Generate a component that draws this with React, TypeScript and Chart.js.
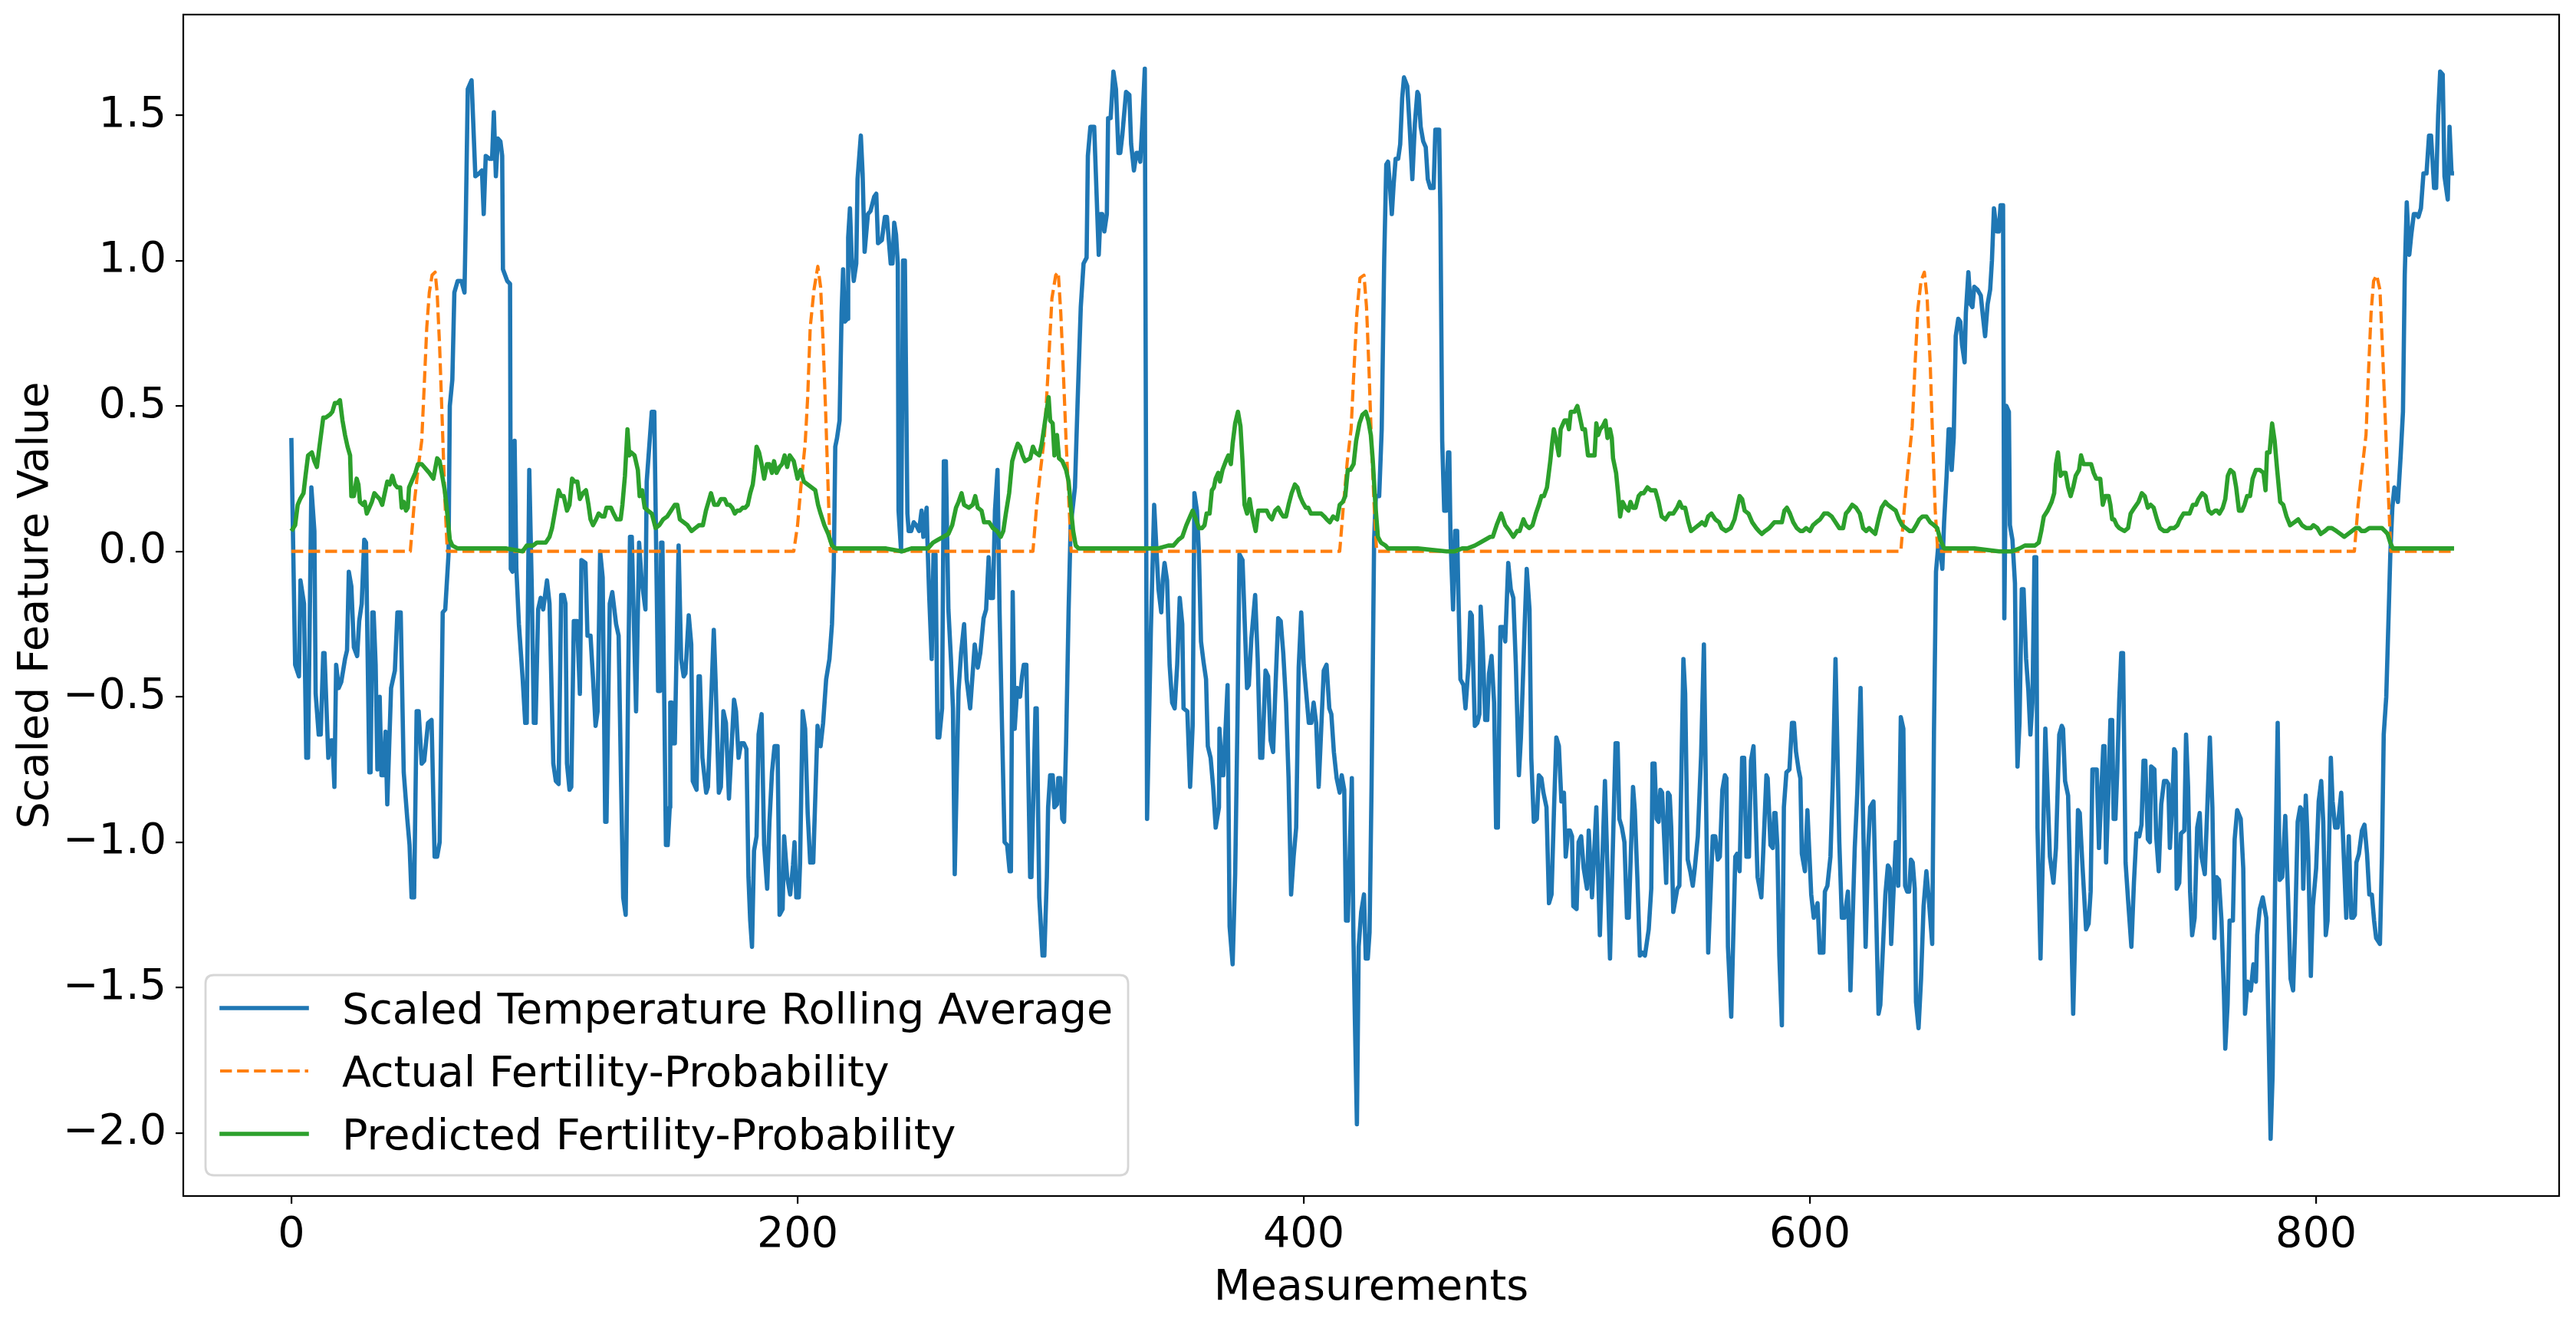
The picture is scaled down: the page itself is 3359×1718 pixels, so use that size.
import React, { useEffect, useRef } from "react";
import { Chart, registerables } from "chart.js";

Chart.register(...registerables);

const W = 3359;
const H = 1718;

const xTickValues = [0, 200, 400, 600, 800];
const yTickValues = [-2, -1.5, -1, -0.5, 0, 0.5, 1, 1.5];
const seriesLabels = [
  "Scaled Temperature Rolling Average",
  "Actual Fertility-Probability",
  "Predicted Fertility-Probability",
];
const seriesColors = ["#1f77b4", "#ff7f0e", "#2ca02c"];

// Scaled temperature rolling average, [measurement, value]
const tempPart1: [number, number][] = [
  [0,0.39],[1.5,-0.39],[3,-0.43],[3.6,-0.10],[5,-0.18],[5.9,-0.71],[6.6,-0.71],[7.9,0.22],[9.1,0.07],[9.6,-0.49],[10.8,-0.63],[11.6,-0.63],[12.6,-0.35],[13.1,-0.35],[14.6,-0.71],[15.7,-0.65],[16.2,-0.65],[17,-0.81],[17.7,-0.39],[18.7,-0.47],[19.7,-0.45],[21.2,-0.37],[22,-0.34],[22.7,-0.07],[23.7,-0.12],[24.7,-0.33],[26,-0.36],[26.8,-0.24],[27.8,-0.18],[28.8,0.04],[29.5,0.03],[30.8,-0.76],[31.3,-0.76],[32,-0.21],[32.5,-0.21],[33.3,-0.39],[34,-0.75],[34.9,-0.50],[35.6,-0.77],[36.4,-0.77],[37.2,-0.62],[37.9,-0.87],[39.4,-0.47],[40.9,-0.41],[41.9,-0.21],[43.2,-0.21],[44.4,-0.76],[45.8,-0.92],[46.7,-1.01],[47.5,-1.19],[48.5,-1.19],[49.5,-0.55],[50.3,-0.55],[51.5,-0.73],[52.5,-0.72],[54,-0.59],[55.4,-0.58],[56.6,-1.05],[57.6,-1.05],[58.6,-1.00],[59.8,-0.21],[60.8,-0.20],[62.1,-0.01],[62.6,0.50],[63.6,0.59],[64.4,0.89],[65.7,0.93],[67.2,0.93],[68.4,0.89],[68.9,1.13],[69.7,1.59],[71.2,1.62],[72.7,1.29],[74.2,1.30],[75.3,1.31],[76,1.16],[76.8,1.36],[78.3,1.35],[79.3,1.35],[80,1.51],[80.8,1.29],[81.6,1.42],[82.6,1.41],[83.3,1.36],[83.6,0.97],[85.3,0.93],[86.4,0.92],[86.7,-0.06],[87.4,-0.07],[88.2,0.38],[88.9,-0.06],[89.9,-0.25],[91.4,-0.44],[92.4,-0.59],[93,-0.59],[94,0.28],[95,-0.13],[95.8,-0.59],[96.5,-0.59],[97.5,-0.20],[98.5,-0.16],[99.5,-0.20],[101,-0.10],[102,-0.18],[103.5,-0.73],[104.5,-0.79],[105.6,-0.80],[106.6,-0.15],[107.6,-0.15],[108.3,-0.18],[108.9,-0.73],[109.9,-0.82],[110.6,-0.81],[111.6,-0.24],[112.9,-0.24],[114,-0.49],[114.6,-0.03],[116.2,-0.04],[117,-0.29],[118.2,-0.29],[119.2,-0.44],[120.2,-0.60],[121,-0.55],[122,0.00],[123,-0.09],[124,-0.93],[124.5,-0.93],[125.8,-0.18],[126.8,-0.14],[128.3,-0.25],[129.3,-0.29],[130.3,-0.81],[131.1,-1.19],[132.1,-1.25],[133.1,-0.42],[133.8,0.05],[134.5,0.05],[136.2,-0.55],[137.4,0.03],[138.4,-0.10],[139.9,-0.20],[140.4,0.24],[142.4,0.48],
];
const tempPart2: [number, number][] = [
  [143.4,0.48],[144.9,-0.48],[145.6,-0.48],[146.1,0.03],[146.6,0.03],[148,-1.01],[148.7,-1.01],[149.5,-0.88],[149.7,-0.52],[150.3,-0.52],[150.7,-0.66],[151.5,-0.66],[153,0.02],[154,-0.37],[155,-0.43],[155.7,-0.42],[157,-0.22],[158,-0.32],[158.6,-0.79],[160.1,-0.82],[160.9,-0.43],[161.4,-0.43],[162.4,-0.71],[163.9,-0.83],[164.6,-0.81],[166.9,-0.27],[167.6,-0.44],[168.9,-0.83],[169.7,-0.81],[170.7,-0.55],[171.7,-0.59],[172.9,-0.85],[174.9,-0.51],[175.7,-0.55],[176.7,-0.71],[177.7,-0.66],[178.8,-0.66],[179.8,-0.68],[180.6,-1.12],[181.3,-1.27],[182,-1.36],[182.8,-1.03],[183.8,-0.98],[184.6,-0.63],[185.8,-0.56],[186.8,-1.01],[188,-1.16],[188.9,-0.93],[189.9,-0.76],[190.9,-0.67],[192.1,-0.67],[192.9,-1.25],[194.1,-1.23],[194.7,-0.98],[195.9,-1.12],[197.1,-1.18],[198.2,-1.08],[198.8,-1.00],[199.5,-1.19],[200.5,-1.19],[201,-1.07],[202,-0.55],[203,-0.61],[204,-0.90],[205,-1.07],[206.2,-1.07],[207.9,-0.60],[209.1,-0.67],[210.1,-0.59],[211.3,-0.44],[212.6,-0.37],[213.6,-0.25],[214.3,-0.06],[214.9,0.36],[215.6,0.39],[216.6,0.45],[217.4,0.82],[218,0.97],[218.7,0.79],[219.7,0.80],[220,1.08],[220.7,1.18],[221.4,1.01],[222.2,0.93],[223.2,0.99],[223.7,1.28],[225,1.43],[225.7,1.30],[226.5,1.03],[227.8,1.16],[228.8,1.17],[230.3,1.22],[231.1,1.23],[231.8,1.06],[233.3,1.07],[234.5,1.15],[235.3,1.15],[236.8,0.99],[237.5,0.99],[238.2,1.13],[238.9,1.09],[239.6,0.99],[239.9,0.14],[240.9,0.00],[241.7,1.00],[242.4,1.00],[243.4,0.13],[243.9,0.07],[244.9,0.07],[245.9,0.10],[246.9,0.09],[248,0.07],[249,0.14],[249.7,0.05],[251,0.15],[251.3,0.04],[252,-0.15],[253,-0.37],[253.7,-0.01],[254.5,-0.01],[255.3,-0.64],[256,-0.64],[257.1,-0.54],[257.8,0.31],[258.6,0.31],[259.6,-0.20],[260.6,-0.37],[261.4,-0.54],[262.1,-1.11],[263.6,-0.48],[264.6,-0.35],[265.8,-0.25],[266.8,-0.44],[268.2,-0.54],[270,-0.32],[271.2,-0.40],[272.2,-0.35],[273.5,-0.23],[274.5,-0.20],[275.5,-0.02],[276.2,-0.16],[277.2,-0.16],[278,0.14],[279,0.28],[279.8,-0.20],[280.8,-0.61],[281.8,-1.00],[282.8,-1.01],[283.8,-1.10],[284.3,-1.10],[285,-0.14],[285.8,-0.61],[286.8,-0.47],[287.9,-0.50],
];
const tempPart3: [number, number][] = [
  [288.7,-0.43],[289.4,-0.39],[290.4,-0.39],[291.9,-1.12],[292.4,-1.12],[294,-0.54],[294.5,-0.54],[295.5,-1.19],[296.8,-1.39],[297.5,-1.39],[298.5,-1.12],[299,-0.88],[299.8,-0.77],[300.8,-0.77],[301.5,-0.88],[302.5,-0.87],[303,-0.78],[303.8,-0.78],[304.6,-0.92],[305.3,-0.93],[306.1,-0.66],[307.1,-0.20],[307.9,0.09],[308.6,0.14],[309.6,0.22],[310.6,0.50],[311.9,0.84],[313,0.99],[314.2,1.01],[314.7,1.36],[315.7,1.46],[317.2,1.46],[319,1.02],[319.7,1.16],[320.4,1.16],[321.2,1.10],[322.2,1.16],[322.7,1.49],[323.7,1.49],[324.8,1.65],[325.8,1.59],[326.8,1.37],[327.5,1.37],[328.3,1.43],[329.8,1.58],[331.1,1.57],[331.8,1.40],[332.9,1.31],[333.9,1.37],[334.6,1.37],[335.4,1.34],[336.2,1.47],[337.2,1.66],[338.1,-0.92],[339.6,-0.27],[340.9,0.16],[342.6,-0.13],[343.7,-0.21],[344.3,-0.10],[345,-0.04],[346,-0.10],[347,-0.39],[348,-0.52],[349,-0.54],[350,-0.39],[351,-0.16],[352,-0.25],[352.5,-0.54],[354,-0.55],[355.1,-0.81],[356.1,-0.60],[356.8,0.20],[357.8,0.14],[358.6,-0.01],[359.4,-0.31],[360.4,-0.38],[361.4,-0.44],[362.1,-0.67],[363.2,-0.71],[364.2,-0.81],[365.2,-0.95],[366.5,-0.88],[366.7,-0.61],[367.7,-0.77],[368.2,-0.77],[369,-0.63],[369.9,-0.46],[370.7,-1.29],[371.9,-1.42],[372.9,-1.11],[373.8,-0.59],[374.6,-0.01],[375.8,-0.03],[376.7,-0.25],[377.6,-0.47],[378.3,-0.46],[379.3,-0.30],[380.8,-0.15],[381.8,-0.37],[382.8,-0.71],[383.6,-0.71],[384.9,-0.41],[385.9,-0.43],[386.9,-0.65],[387.9,-0.69],[388.9,-0.45],[389.9,-0.23],[390.9,-0.24],[391.9,-0.35],[393,-0.52],[394,-0.78],[395,-1.18],[396,-1.05],[397,-0.95],[398,-0.40],[399,-0.21],[400,-0.39],[401,-0.49],[402,-0.59],[403,-0.59],[403.9,-0.52],[404.9,-0.59],[405.9,-0.81],[406.9,-0.61],[407.9,-0.41],[409,-0.39],[410.1,-0.54],[410.9,-0.56],[411.9,-0.69],[413,-0.78],[414.2,-0.83],[415,-0.77],[416,-0.82],[416.7,-1.27],[417.4,-1.27],[418.2,-1.03],[419,-0.78],[419.6,-1.31],[420.2,-1.61],[421,-1.97],[421.7,-1.36],[422.7,-1.24],[423.8,-1.18],[424.5,-1.40],[425.3,-1.40],[426,-1.31],[426.8,-0.80],[427.8,0.04],[428.5,0.19],[429.8,0.19],[430.8,0.42],[431.8,1.01],[432.6,1.33],[433.3,1.34],
];
const tempPart4: [number, number][] = [
  [434.1,1.25],[434.8,1.16],[435.5,1.26],[436.3,1.35],[437.3,1.35],[438.1,1.40],[438.9,1.56],[439.6,1.63],[440.9,1.60],[441.9,1.45],[442.9,1.28],[443.9,1.47],[444.9,1.58],[445.4,1.57],[446.2,1.46],[447.2,1.41],[448.2,1.39],[449,1.28],[450,1.25],[451.3,1.25],[452,1.45],[453.5,1.45],[454,1.16],[454.7,0.38],[455.5,0.14],[456.3,0.14],[457,0.34],[457.5,0.34],[458,0.04],[459,-0.20],[459.8,0.07],[460.6,0.07],[461.1,-0.15],[461.9,-0.44],[463.1,-0.46],[463.9,-0.54],[465.1,-0.39],[465.8,-0.21],[466.4,-0.22],[467.6,-0.60],[468.6,-0.59],[469.4,-0.56],[469.9,-0.19],[470.7,-0.32],[471.7,-0.58],[472.5,-0.58],[473.2,-0.42],[474.2,-0.36],[475.2,-0.52],[476,-0.95],[476.7,-0.95],[477.7,-0.26],[478.7,-0.26],[479.6,-0.31],[480.8,-0.04],[481.8,-0.13],[482.8,-0.16],[483.8,-0.39],[485,-0.77],[485.8,-0.64],[486.6,-0.44],[487.3,-0.25],[488.1,-0.06],[489.2,-0.20],[489.9,-0.71],[490.9,-0.93],[492.1,-0.92],[492.9,-0.77],[493.9,-0.78],[494.7,-0.83],[495.9,-0.88],[496.9,-1.21],[497.9,-1.18],[498.9,-0.88],[499.8,-0.64],[500.8,-0.67],[501.8,-0.86],[502.8,-0.83],[503.5,-1.05],[504.5,-0.96],[505.2,-0.96],[506,-0.98],[506.5,-1.22],[507.8,-1.23],[508.6,-1.00],[509.6,-0.98],[510.6,-1.09],[511.9,-1.16],[512.6,-0.96],[513.9,-1.19],[515.6,-0.88],[517,-1.32],[519,-0.79],[521,-1.40],[523.2,-0.66],[524,-0.66],[524.7,-0.92],[525.7,-0.95],[526.7,-1.00],[527.7,-1.26],[528.4,-1.26],[530.1,-0.81],[530.8,-0.89],[531.8,-1.12],[532.8,-1.39],[533.8,-1.38],[534.8,-1.39],[536.3,-1.30],[537.3,-1.16],[537.8,-0.73],[538.6,-0.73],[539.4,-0.92],[540.2,-0.93],[540.9,-0.82],[541.6,-0.83],[543.2,-1.14],[543.9,-0.83],[544.6,-0.84],[545.2,-0.95],[546,-1.24],[547,-1.19],[547.6,-1.16],[548.4,-1.15],[550,-0.37],[550.7,-0.49],[551.7,-1.06],[552.7,-1.10],[553.7,-1.15],[554.5,-1.09],[555.7,-0.98],[557,-0.70],[558.1,-0.32],[559.8,-1.38],[561.6,-0.98],[562.6,-0.98],[563.6,-1.06],[564.4,-1.05],[565.4,-0.82],[566.4,-0.77],[567,-0.78],[567.6,-1.36],[568.9,-1.60],[570.5,-1.05],[571.2,-1.04],[572.2,-1.10],[573.2,-0.71],[574,-0.71],[574.9,-1.05],[575.9,-1.05],[576.7,-0.72],[577.7,-0.67],
];
const tempPart5: [number, number][] = [
  [579.3,-1.12],[580.8,-1.19],[582.8,-0.77],[583.3,-0.78],[584.4,-1.01],[585.3,-1.02],[585.9,-0.90],[586.4,-0.90],[587.1,-1.01],[587.9,-1.39],[588.9,-1.63],[589.7,-0.88],[590.7,-0.76],[591.9,-0.75],[592.9,-0.59],[593.7,-0.59],[594.5,-0.69],[595.5,-0.75],[596.2,-0.78],[596.8,-1.04],[598,-1.10],[599,-0.89],[600.5,-1.18],[601.5,-1.26],[603,-1.21],[603.9,-1.38],[605.3,-1.38],[605.9,-1.17],[606.9,-1.15],[608.1,-1.05],[609,-0.80],[610.1,-0.37],[611.6,-1.00],[612.6,-1.26],[613.6,-1.26],[615,-1.17],[616,-1.51],[617.7,-1.02],[618.7,-0.83],[620,-0.47],[622,-1.36],[623,-1.02],[623.8,-0.88],[625.1,-0.86],[627.1,-1.59],[627.8,-1.56],[629.8,-1.18],[630.8,-1.08],[631.5,-1.09],[632.1,-1.35],[633.9,-1.00],[634.4,-1.00],[634.9,-1.15],[635.9,-0.57],[636.9,-0.61],[637.6,-1.15],[638.4,-1.17],[639.2,-1.17],[639.9,-1.06],[640.6,-1.07],[641.4,-1.16],[641.9,-1.55],[642.9,-1.64],[643.9,-1.47],[644.9,-1.22],[646,-1.10],[647,-1.20],[648.3,-1.35],[649,-0.62],[649.8,-0.07],[650.7,0.02],[651.5,0.01],[652.3,-0.06],[653,0.10],[654,0.26],[654.8,0.42],[655.4,0.42],[656,0.28],[656.8,0.39],[657.6,0.74],[658.6,0.80],[659.4,0.79],[660.1,0.71],[661.1,0.65],[661.6,0.82],[662.6,0.96],[663.4,0.85],[664.2,0.84],[664.9,0.91],[666.2,0.90],[667.5,0.88],[668.2,0.82],[669.2,0.74],[670.2,0.85],[671.2,0.90],[671.9,1.00],[672.7,1.18],[673.8,1.10],[674.6,1.10],[675.3,1.19],[676.3,1.19],[676.8,-0.23],[677.6,0.50],[678.6,0.48],[679,0.09],[680,0.04],[681,-0.11],[681.4,-0.45],[682,-0.74],[682.8,-0.59],[683.7,-0.13],[684.4,-0.13],[685.4,-0.37],[686.3,-0.48],[687.1,-0.63],[687.9,-0.52],[688.7,-0.02],[689.4,-0.02],[689.9,-0.95],[691.1,-1.40],[692,-1.05],[693,-0.61],[693.9,-0.83],[694.8,-1.05],[696.2,-1.14],[697.2,-1.02],[698.5,-0.63],[699.5,-0.60],[700,-0.61],[700.8,-0.79],[702,-0.84],[703,-1.20],[704,-1.59],[705,-1.25],[705.9,-0.89],[706.6,-0.90],[707.6,-1.07],[709.1,-1.30],[710.1,-1.28],[710.9,-1.17],[711.6,-0.75],[713.3,-0.75],[714.2,-1.02],[715.1,-0.83],[715.9,-0.67],[716.4,-0.67],[717,-1.07],[717.9,-0.83],[718.7,-0.58],[719.4,-0.58],[720,-0.92],[720.7,-0.92],[721.4,-0.76],[722.2,-0.51],[723,-0.35],[723.7,-0.35],
];
const tempPart6: [number, number][] = [
  [724.7,-1.07],[725.7,-1.20],[727,-1.36],[728,-1.14],[729,-0.97],[730.1,-0.98],[731,-0.94],[731.8,-0.72],[732.5,-0.72],[733.5,-0.99],[734.3,-1.00],[734.8,-0.74],[736.1,-0.75],[736.8,-0.98],[737.8,-1.10],[738.8,-0.87],[739.9,-0.79],[740.9,-0.79],[741.6,-0.80],[742.2,-1.02],[743.1,-0.88],[743.9,-0.68],[744.4,-0.69],[744.9,-1.16],[745.9,-1.14],[746.6,-0.97],[747.9,-0.96],[748.6,-0.63],[749.4,-0.81],[750.2,-1.17],[751,-1.32],[752,-1.26],[753,-0.95],[754,-0.90],[754.7,-1.05],[756,-1.11],[757,-0.88],[758,-0.64],[759,-0.88],[759.8,-1.33],[760.6,-1.12],[761.6,-1.13],[762.6,-1.27],[763.6,-1.53],[764.1,-1.71],[765,-1.56],[765.8,-1.27],[767.1,-1.27],[767.8,-0.99],[768.8,-0.89],[770.2,-0.92],[771.2,-1.09],[771.9,-1.59],[772.9,-1.48],[774.2,-1.51],[775.2,-1.42],[776.2,-1.48],[776.7,-1.32],[777.7,-1.23],[778.9,-1.19],[780.3,-1.26],[781.2,-1.65],[782,-2.02],[782.8,-1.80],[783.8,-1.13],[784.8,-0.59],[785.6,-1.13],[786.6,-1.12],[787.8,-0.91],[788.8,-1.16],[789.9,-1.47],[790.9,-1.51],[791.7,-1.30],[792.7,-0.93],[793.7,-0.88],[794.4,-0.89],[794.9,-1.16],[795.9,-0.84],[796.9,-1.05],[797.9,-1.46],[798.7,-1.22],[800,-1.09],[801,-0.86],[802,-0.79],[802.8,-0.93],[803.8,-1.32],[804.5,-1.27],[805.8,-0.71],[806.5,-0.86],[807.5,-0.95],[808.5,-0.95],[809.9,-0.83],[810.6,-0.98],[811.9,-1.26],[812.9,-0.98],[813.9,-1.26],[814.6,-1.26],[815.3,-1.25],[815.9,-1.07],[816.9,-1.04],[818.1,-0.96],[819.1,-0.94],[820.1,-1.04],[821,-1.18],[822,-1.18],[822.9,-1.27],[823.7,-1.33],[825.2,-1.35],[826,-1.05],[826.7,-0.63],[827.7,-0.50],[828.7,-0.20],[829.3,-0.01],[830.1,0.15],[830.9,0.22],[832.3,0.17],[833.4,0.33],[834.3,0.48],[835,0.95],[835.8,1.20],[836.8,1.02],[837.6,1.09],[838.6,1.16],[839.6,1.16],[840.4,1.15],[841.4,1.18],[842.4,1.30],[843.6,1.30],[844.6,1.43],[845.4,1.43],[846.6,1.25],[847.4,1.25],[848.2,1.50],[849,1.65],[850,1.64],[850.7,1.29],[852,1.21],[852.7,1.46],[853.5,1.30],[854.5,1.30],
];

// Actual fertility probability, [measurement, value]
const actualSeries: [number, number][] = [
  [0,0],[47,0],[48.5,0.16],[50,0.28],[51.5,0.38],[52.5,0.57],[53.5,0.77],[54.5,0.89],[55.6,0.95],[56.8,0.96],[57.6,0.89],[58.6,0.70],[59.6,0.45],[60.6,0.19],[61.6,0],
  [198.5,0],[200,0.09],[201.5,0.24],[203,0.37],[204,0.53],[205,0.77],[206.5,0.90],[208,0.98],[209.1,0.91],[210.1,0.72],[211.1,0.48],[212.1,0.21],[212.9,0],
  [293,0],[294.5,0.16],[296,0.28],[297.5,0.39],[299,0.62],[300.5,0.87],[302,0.95],[303,0.96],[304,0.82],[305,0.62],[306.1,0.38],[307.1,0.19],[308.1,0],
  [414.2,0],[415.7,0.16],[417.2,0.31],[418.7,0.42],[419.7,0.60],[421,0.82],[422.2,0.94],[423.8,0.95],[424.8,0.84],[425.8,0.62],[426.8,0.36],[427.8,0.16],[428.8,0],
  [635.9,0],[637.4,0.16],[638.9,0.30],[640.4,0.43],[641.4,0.62],[642.6,0.83],[643.9,0.93],[645.2,0.96],[646.3,0.87],[647.5,0.65],[648.5,0.38],[649.5,0.14],[650.5,0],
  [815.1,0],[816.6,0.16],[818.1,0.28],[819.7,0.40],[820.7,0.62],[821.7,0.82],[822.7,0.93],[823.9,0.95],[825.2,0.90],[826.2,0.70],[827.2,0.48],[828.2,0.26],[829.5,0],[854.5,0],
];

// Predicted fertility probability, [measurement, value]
const predPart1: [number, number][] = [
  [0,0.07],[1.5,0.09],[2.5,0.16],[3.5,0.18],[4.8,0.20],[5.6,0.26],[6.6,0.33],[8.1,0.34],[9.1,0.31],[10.1,0.29],[11.1,0.36],[12.6,0.46],[13.6,0.46],[15.2,0.47],[16.2,0.48],[17.2,0.51],[18.2,0.51],[19.2,0.52],[20.2,0.45],[21.2,0.40],[22.2,0.36],[23.2,0.33],[23.7,0.19],[24.7,0.19],[25.8,0.25],[26.5,0.23],[27.1,0.17],[28.3,0.16],[29,0.17],[29.8,0.13],[30.8,0.15],[31.8,0.17],[32.8,0.20],[33.8,0.19],[34.9,0.18],[35.9,0.16],[36.9,0.20],[37.9,0.24],[38.9,0.23],[39.9,0.26],[40.9,0.23],[41.9,0.22],[43,0.22],[43.6,0.15],[44.4,0.17],[45.3,0.14],[46,0.15],[46.5,0.22],[48,0.25],[49,0.27],[50,0.30],[51.5,0.30],[52.5,0.29],[53.5,0.28],[54.5,0.27],[56.1,0.25],[57.6,0.32],[58.6,0.31],[59.6,0.26],[60.6,0.21],[61.6,0.13],[62.6,0.04],[63.6,0.02],[65.7,0.01],[75,0.01],[85,0.01],[91.4,0.00],[93,0.02],[95.5,0.02],[97,0.03],[99,0.03],[100.5,0.03],[102,0.05],[103,0.08],[104,0.13],[105.6,0.21],[106.6,0.19],[107.6,0.19],[108.9,0.14],[109.9,0.16],[110.9,0.25],[111.9,0.24],[113,0.24],[114,0.18],[115.2,0.20],[116.4,0.21],[117.4,0.16],[118.2,0.11],[119.2,0.09],[120.4,0.11],[121.4,0.13],[122.7,0.12],[123.7,0.12],[124.5,0.15],[126.3,0.15],[127.3,0.13],[128.5,0.11],[130.1,0.11],[130.8,0.16],[131.8,0.26],[132.8,0.42],[133.5,0.33],[134.3,0.34],[135.6,0.33],[136.9,0.28],[137.6,0.19],[138.6,0.21],[139.6,0.15],[140.9,0.14],[142.4,0.13],
];
const predPart2: [number, number][] = [
  [143.9,0.08],[145.4,0.09],[146.9,0.11],[148.5,0.12],[150,0.14],[151.5,0.16],[152.5,0.16],[153.5,0.11],[155,0.10],[156.5,0.09],[158.1,0.07],[159.6,0.08],[161.1,0.09],[162.6,0.09],[163.8,0.14],[164.8,0.17],[165.8,0.20],[167.1,0.16],[168.5,0.16],[169.7,0.18],[171.2,0.18],[172.2,0.16],[173.2,0.16],[174.2,0.15],[175.2,0.13],[176.2,0.14],[177.2,0.14],[178.3,0.15],[179.3,0.15],[180.3,0.16],[181.3,0.20],[182.3,0.23],[183,0.28],[183.8,0.36],[184.8,0.34],[185.8,0.30],[186.8,0.25],[187.9,0.30],[188.9,0.30],[189.9,0.27],[190.7,0.31],[191.7,0.27],[192.9,0.29],[193.9,0.30],[194.9,0.33],[195.9,0.29],[196.9,0.33],[198.5,0.31],[200,0.25],[201.2,0.28],[202.5,0.24],[204,0.23],[205.5,0.22],[207,0.21],[208.1,0.16],[209.1,0.13],[210.6,0.09],[212.1,0.06],[213.6,0.02],[215.1,0.01],[225,0.01],[235,0.01],[241.4,0.00],[245,0.01],[251.5,0.01],[253.5,0.03],[255.5,0.04],[257.6,0.05],[259.6,0.06],[261.1,0.09],[262.6,0.15],[263.6,0.17],[264.8,0.20],[265.8,0.16],[267.7,0.15],[269.2,0.16],[270.2,0.19],[271.2,0.15],[272.7,0.14],[273.7,0.10],[275.7,0.10],[277.2,0.08],[278.8,0.07],[280.3,0.05],[281.3,0.07],[282.3,0.13],[283.6,0.20],[284.8,0.31],[285.8,0.34],[287,0.37],[287.9,0.36],
];
const predPart3: [number, number][] = [
  [288.9,0.33],[289.9,0.31],[291.9,0.32],[293,0.36],[294,0.34],[295.5,0.33],[296.5,0.37],[297.5,0.43],[298.5,0.49],[299.2,0.53],[299.8,0.45],[300.8,0.44],[301.5,0.33],[302.5,0.40],[303.3,0.32],[304.6,0.31],[306.1,0.28],[307.1,0.24],[308.1,0.14],[308.9,0.07],[309.9,0.02],[311.1,0.01],[325,0.01],[342.4,0.01],[346.5,0.02],[348.5,0.02],[350.5,0.04],[352,0.05],[353.6,0.09],[355.1,0.12],[356.1,0.14],[357.4,0.11],[358.6,0.08],[359.8,0.08],[360.8,0.09],[361.6,0.13],[362.8,0.13],[363.7,0.21],[364.5,0.22],[365.2,0.25],[366.2,0.27],[366.9,0.24],[367.9,0.28],[369.2,0.31],[370.2,0.33],[371.2,0.30],[371.9,0.37],[372.9,0.44],[374,0.48],[375,0.43],[375.8,0.31],[376.6,0.16],[377.6,0.13],[378.6,0.18],[379.3,0.14],[380,0.11],[381,0.07],[382,0.14],[384.4,0.14],[385.4,0.14],[386.4,0.12],[387.4,0.11],[388.7,0.14],[389.9,0.15],[391.1,0.13],[391.9,0.12],[393,0.12],[394,0.16],[395.2,0.20],[396.5,0.23],[397.5,0.22],[398.5,0.19],[399.5,0.17],[400.8,0.15],[401.8,0.15],[402.8,0.13],[404.1,0.13],[405.6,0.13],[406.9,0.13],[408.1,0.12],[409.1,0.11],[410.3,0.10],[411.6,0.12],[413.2,0.11],[414.2,0.16],[415.4,0.17],[416.4,0.19],[417.4,0.28],[418.4,0.28],[419.7,0.30],[420.7,0.38],[422,0.44],[423.2,0.47],[424.5,0.48],[425.5,0.45],[426.5,0.40],[427.3,0.31],[428.3,0.16],[429.3,0.05],[430.5,0.03],[432.3,0.02],[433.3,0.01],
];
const predPart4: [number, number][] = [
  [445,0.01],[456.5,0.00],[459.6,0.00],[462.6,0.01],[464.6,0.01],[467.6,0.02],[469.7,0.03],[471.7,0.04],[473.7,0.05],[474.7,0.05],[476.2,0.09],[478,0.13],[479.6,0.09],[481.3,0.07],[482.8,0.05],[484.3,0.07],[485.3,0.07],[486.8,0.11],[487.8,0.09],[489.1,0.08],[490.4,0.09],[491.7,0.13],[492.9,0.16],[493.9,0.19],[494.9,0.19],[496.1,0.22],[497.4,0.31],[498.1,0.37],[498.8,0.42],[499.8,0.38],[500.8,0.33],[501.5,0.42],[503,0.45],[504,0.45],[504.8,0.42],[505.5,0.48],[507,0.48],[508.1,0.50],[508.9,0.47],[510.1,0.42],[511.1,0.42],[512.3,0.33],[513.6,0.33],[514.9,0.33],[515.6,0.44],[516.3,0.40],[517.1,0.42],[518.1,0.43],[519.2,0.45],[520,0.39],[521,0.42],[521.7,0.39],[522.2,0.32],[523.4,0.27],[524.2,0.20],[525,0.12],[526,0.17],[527.2,0.15],[528.3,0.14],[529.1,0.17],[530.1,0.15],[531.1,0.15],[532.3,0.19],[533.3,0.20],[534.3,0.20],[535.8,0.22],[537.1,0.21],[538.9,0.21],[540.2,0.17],[541.4,0.12],[542.9,0.11],[544.4,0.13],[546,0.13],[547.5,0.15],[548.5,0.17],[549.5,0.15],[550.7,0.15],[552,0.10],[553,0.07],[554.5,0.08],[556,0.09],[557.3,0.10],[558.6,0.09],[559.8,0.12],[561.1,0.13],[562.6,0.11],[564.1,0.10],[565.1,0.08],[566.8,0.07],[568.7,0.08],[570.2,0.11],[571.2,0.15],[572.2,0.19],[573.2,0.18],[574.2,0.14],[575.7,0.13],[577.2,0.10],[578.8,0.08],
];
const predPart5: [number, number][] = [
  [579.8,0.07],[581,0.06],[582.3,0.07],[583.9,0.08],[585.9,0.10],[587.4,0.10],[588.9,0.10],[589.9,0.14],[590.9,0.15],[592.1,0.13],[593.4,0.10],[594.8,0.08],[596.2,0.07],[597.2,0.07],[598.5,0.08],[600,0.07],[601.2,0.09],[602.5,0.10],[604,0.11],[605.6,0.13],[607.1,0.13],[608.6,0.12],[610.1,0.10],[611.6,0.08],[613.1,0.08],[614.2,0.13],[615.2,0.14],[616.7,0.16],[618.2,0.15],[619.7,0.13],[621,0.08],[622.2,0.07],[623.4,0.08],[624.5,0.07],[625.8,0.06],[627.1,0.11],[628.3,0.15],[629.8,0.17],[630.8,0.16],[632.3,0.15],[633.9,0.14],[635.2,0.11],[636.4,0.09],[637.9,0.08],[639.4,0.07],[640.6,0.07],[642,0.09],[643.2,0.11],[644.5,0.12],[646,0.12],[647.5,0.10],[649,0.09],[650.3,0.08],[651.5,0.04],[653,0.01],[655.6,0.01],[665,0.01],[674.8,0.00],[679.8,0.00],[682.8,0.01],[684.9,0.02],[686.9,0.02],[688.9,0.02],[690.4,0.03],[691.4,0.07],[692.4,0.12],[693.9,0.14],[695.5,0.17],[696.5,0.20],[697.2,0.30],[698,0.34],[699,0.26],[700,0.27],[701,0.27],[702,0.22],[703,0.19],[704,0.22],[705,0.26],[706.3,0.28],[707.1,0.33],[708.1,0.30],[709.6,0.30],[711.1,0.30],[712.1,0.27],[713.1,0.25],[714.7,0.25],[715.7,0.16],[716.7,0.19],[718,0.19],[718.7,0.16],[719.4,0.11],[720.2,0.11],[721.2,0.09],[722.2,0.08],[724.2,0.07],
];
const predPart6: [number, number][] = [
  [725.7,0.08],[726.7,0.13],[728.2,0.15],[729.8,0.17],[731.1,0.20],[732.3,0.19],[733.5,0.15],[734.6,0.16],[735.8,0.15],[737.1,0.11],[738.3,0.08],[739.9,0.07],[741.2,0.07],[742.4,0.08],[743.9,0.08],[745.2,0.09],[746.2,0.11],[747.6,0.13],[748.9,0.13],[750,0.13],[751.3,0.16],[752.5,0.16],[753.5,0.18],[755,0.20],[756.3,0.19],[757.5,0.14],[758.7,0.13],[760.1,0.14],[760.8,0.14],[761.8,0.13],[763.1,0.15],[764.1,0.18],[765.1,0.26],[766.1,0.28],[767.4,0.27],[768.4,0.22],[769.5,0.14],[770.7,0.14],[771.7,0.16],[772.7,0.19],[773.9,0.19],[774.9,0.25],[776.2,0.28],[777.7,0.28],[779.2,0.27],[780,0.21],[780.6,0.34],[781.6,0.34],[782.6,0.44],[783.6,0.38],[784.6,0.28],[785.8,0.17],[787,0.16],[788.3,0.12],[789.7,0.09],[791.4,0.10],[792.9,0.11],[794.4,0.09],[796.1,0.08],[797.9,0.08],[798.9,0.09],[800.5,0.08],[801.8,0.06],[803.5,0.07],[804.8,0.08],[806.2,0.08],[808,0.07],[809.6,0.06],[811.1,0.05],[812.6,0.06],[814.1,0.07],[815.6,0.08],[816.9,0.08],[817.9,0.07],[819.3,0.07],[821,0.08],[822.7,0.08],[824.7,0.08],[826,0.08],[827.2,0.07],[828.2,0.06],[829.3,0.03],[830.3,0.01],[834.3,0.01],[840.4,0.01],[845.4,0.01],[854.5,0.01],
];

const tempSeries = [...tempPart1, ...tempPart2, ...tempPart3, ...tempPart4, ...tempPart5, ...tempPart6];
const predSeries = [...predPart1, ...predPart2, ...predPart3, ...predPart4, ...predPart5, ...predPart6];

const toPoints = (arr: [number, number][]) => arr.map(([x, y]) => ({ x, y }));

const FONT = "'DejaVu Sans', sans-serif";
const FS = 55.6;

const fmtY = (v: number) => (v < 0 ? "\u2212" + Math.abs(v).toFixed(1) : v.toFixed(1));

export default function App() {
  const ref = useRef<HTMLCanvasElement>(null);

  useEffect(() => {
    if (!ref.current) return;

    const frameLegend = {
      id: "frameLegend",
      afterDraw(chart: any) {
        const ctx = chart.ctx;
        const a = chart.chartArea;
        ctx.save();
        // frame (all four spines)
        ctx.strokeStyle = "#000";
        ctx.lineWidth = 2.2;
        ctx.strokeRect(a.left, a.top, a.right - a.left, a.bottom - a.top);

        // legend box
        const bx = a.left + 29;
        const by = a.bottom - 288;
        const bw = 1203;
        const bh = 261;
        const r = 11;
        ctx.beginPath();
        ctx.moveTo(bx + r, by);
        ctx.lineTo(bx + bw - r, by);
        ctx.quadraticCurveTo(bx + bw, by, bx + bw, by + r);
        ctx.lineTo(bx + bw, by + bh - r);
        ctx.quadraticCurveTo(bx + bw, by + bh, bx + bw - r, by + bh);
        ctx.lineTo(bx + r, by + bh);
        ctx.quadraticCurveTo(bx, by + bh, bx, by + bh - r);
        ctx.lineTo(bx, by + r);
        ctx.quadraticCurveTo(bx, by, bx + r, by);
        ctx.closePath();
        ctx.fillStyle = "rgba(255,255,255,0.8)";
        ctx.fill();
        ctx.strokeStyle = "rgba(204,204,204,0.8)";
        ctx.lineWidth = 2.8;
        ctx.stroke();

        const ds = chart.data.datasets;
        ctx.font = `${FS}px ${FONT}`;
        ctx.textAlign = "left";
        ctx.textBaseline = "alphabetic";
        for (let i = 0; i < ds.length; i++) {
          const cy = by + 43 + i * 82;
          ctx.beginPath();
          ctx.strokeStyle = ds[i].borderColor;
          ctx.lineWidth = ds[i].borderWidth;
          ctx.setLineDash(ds[i].borderDash || []);
          ctx.lineCap = ds[i].borderDash ? "butt" : "square";
          ctx.moveTo(bx + 19 + (ds[i].borderDash ? 0 : 2), cy);
          ctx.lineTo(bx + 134 - (ds[i].borderDash ? 0 : 2), cy);
          ctx.stroke();
          ctx.setLineDash([]);
          ctx.fillStyle = "#000";
          ctx.fillText(ds[i].label, bx + 178, cy + 20);
        }
        ctx.restore();
      },
    };

    const tickFont = { family: FONT, size: FS };
    const gridOpts = {
      display: true,
      drawOnChartArea: false,
      drawTicks: true,
      tickLength: 10,
      tickWidth: 2.2,
      lineWidth: 2.2,
      color: "#000",
      tickColor: "#000",
    };

    const chart = new Chart(ref.current, {
      type: "line",
      data: {
        datasets: [
          {
            label: seriesLabels[0],
            data: toPoints(tempSeries),
            borderColor: seriesColors[0],
            backgroundColor: seriesColors[0],
            borderWidth: 5.6,
            order: 3,
          },
          {
            label: seriesLabels[1],
            data: toPoints(actualSeries),
            borderColor: seriesColors[1],
            backgroundColor: seriesColors[1],
            borderWidth: 4.2,
            borderDash: [15.4, 6.7],
            order: 2,
          },
          {
            label: seriesLabels[2],
            data: toPoints(predSeries),
            borderColor: seriesColors[2],
            backgroundColor: seriesColors[2],
            borderWidth: 5.6,
            order: 1,
          },
        ] as any,
      },
      options: {
        responsive: false,
        devicePixelRatio: 1,
        animation: false,
        parsing: false,
        normalized: true,
        layout: { padding: { top: 19, right: 22, left: 0, bottom: 0 } },
        elements: {
          point: { radius: 0, hoverRadius: 0 },
          line: { tension: 0, borderJoinStyle: "round", borderCapStyle: "butt", fill: false },
        },
        plugins: {
          legend: { display: false },
          tooltip: { enabled: false },
          title: { display: false },
        },
        events: [],
        scales: {
          x: {
            type: "linear",
            min: -42.7,
            max: 896,
            afterBuildTicks: (s: any) => {
              s.ticks = xTickValues.map((v) => ({ value: v }));
            },
            afterFit: (s: any) => {
              s.height = 159;
              s.paddingLeft = 0;
              s.paddingRight = 0;
            },
            grid: gridOpts,
            border: { display: false },
            ticks: {
              font: tickFont,
              color: "#000",
              padding: 8,
              maxRotation: 0,
              minRotation: 0,
              autoSkip: false,
              callback: (v: any) => String(v),
            },
            title: {
              display: true,
              text: "Measurements",
              color: "#000",
              font: { family: FONT, size: FS, lineHeight: 1 },
              padding: { top: 0, bottom: 11 },
            },
          },
          y: {
            type: "linear",
            min: -2.217,
            max: 1.846,
            afterBuildTicks: (s: any) => {
              s.ticks = yTickValues.map((v) => ({ value: v }));
            },
            afterFit: (s: any) => {
              s.width = 239;
              s.paddingTop = 0;
              s.paddingBottom = 0;
            },
            grid: gridOpts,
            border: { display: false },
            ticks: {
              font: tickFont,
              color: "#000",
              padding: 12,
              autoSkip: false,
              callback: (v: any) => fmtY(Number(v)),
            },
            title: {
              display: true,
              text: "Scaled Feature Value",
              color: "#000",
              font: { family: FONT, size: FS, lineHeight: 1 },
              padding: { top: 20, bottom: 0 },
            },
          },
        },
      } as any,
      plugins: [frameLegend],
    });

    return () => chart.destroy();
  }, []);

  return (
    <div style={{ position: "fixed", left: 0, top: 0, width: W, height: H, background: "#fff" }}>
      <canvas ref={ref} width={W} height={H} style={{ width: W, height: H, display: "block" }} />
    </div>
  );
}
